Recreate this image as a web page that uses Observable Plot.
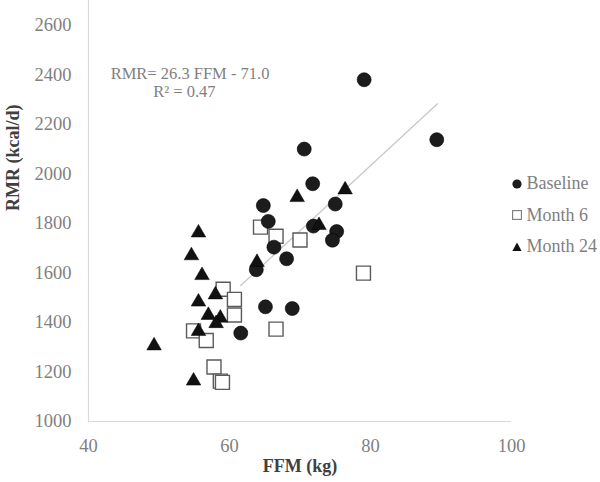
<!DOCTYPE html>
<html>
<head>
<meta charset="utf-8">
<script src="https://cdn.jsdelivr.net/npm/d3@7"></script>
<script src="https://cdn.jsdelivr.net/npm/@observablehq/plot@0.6"></script>
<style>
  html, body { margin: 0; padding: 0; background: #fff; }
  #wrap { position: relative; width: 600px; height: 482px; overflow: hidden; font-family: "Liberation Serif", serif; }
  #legend { position: absolute; left: 510px; top: 168px; }
  .row { display: flex; align-items: center; height: 31.6px; font-size: 18px; color: #7f7f7f; white-space: nowrap; }
  .row svg { margin-right: 2.5px; }
</style>
</head>
<body>
<div id="wrap"><div id="legend"></div></div>
<script>
// ---- data ----
const baselineFFM = [79.1, 89.4, 70.6, 71.8, 64.8, 65.5, 75.0, 71.9, 75.2, 74.6, 66.3, 68.1, 63.8, 65.1, 68.9, 61.6];
const baselineRMR = [2380, 2138, 2100, 1960, 1872, 1808, 1878, 1789, 1767, 1732, 1704, 1657, 1613, 1463, 1456, 1357];

const month6FFM = [64.4, 66.6, 70.0, 79.0, 59.1, 60.7, 60.7, 66.6, 54.9, 56.7, 57.8, 58.7, 59.0];
const month6RMR = [1785, 1748, 1733, 1599, 1534, 1493, 1430, 1373, 1366, 1327, 1220, 1163, 1158];

const month24FFM = [76.4, 69.6, 72.7, 63.9, 55.6, 54.6, 56.1, 55.6, 58.0, 57.0, 58.7, 58.1, 55.6, 49.3, 54.9];
const month24RMR = [1936, 1905, 1792, 1643, 1762, 1670, 1590, 1483, 1512, 1429, 1418, 1396, 1364, 1306, 1164];

const trendFFM = [61.6, 89.5];
const trendRMR = [1549, 2283];

const seriesNames = ["Baseline", "Month 6", "Month 24"];
const xTicks = [40, 60, 80, 100];
const yTicks = [1000, 1200, 1400, 1600, 1800, 2000, 2200, 2400, 2600];
const equationLines = ["RMR= 26.3 FFM - 71.0", "R\u00B2 = 0.47"];
const equationX = [54.4, 53.6];
const equationY = [2404, 2330];
const xLabel = "FFM (kg)";
const yLabel = "RMR (kcal/d)";

// ---- tables ----
const toRows = (xs, ys) => xs.map((x, i) => ({ x, y: ys[i] }));
const baseline = toRows(baselineFFM, baselineRMR);
const month6 = toRows(month6FFM, month6RMR);
const month24 = toRows(month24FFM, month24RMR);
const trend = toRows(trendFFM, trendRMR);
const eq = equationLines.map((t, i) => ({ t, x: equationX[i], y: equationY[i] }));

const tickColor = "#7f7f7f";
const axisColor = "#d9d9d9";

const chart = Plot.plot({
  width: 600,
  height: 482,
  marginLeft: 88,
  marginRight: 89,
  marginTop: 0,
  marginBottom: 61,
  x: { domain: [40, 100] },
  y: { domain: [1000, 2700] },
  style: { fontFamily: "Liberation Serif, serif", fontSize: "18px", background: "transparent", overflow: "visible" },
  marks: [
    Plot.ruleX([40], { stroke: axisColor, strokeWidth: 1.2 }),
    Plot.ruleY([1000], { stroke: axisColor, strokeWidth: 1.2 }),
    Plot.axisX({ ticks: xTicks, tickSize: 0, tickPadding: 17, tickFormat: d => String(d), label: null, fill: tickColor, fontSize: 18.5 }),
    Plot.axisY({ ticks: yTicks, tickSize: 0, tickPadding: 17, tickFormat: d => String(d), label: null, fill: tickColor, fontSize: 18.5 }),
    Plot.text([xLabel], { frameAnchor: "bottom", dy: 50, text: d => d, fontWeight: "bold", fontSize: 18, fill: "#404040" }),
    Plot.text([yLabel], { frameAnchor: "left", dx: -75, rotate: -90, text: d => d, fontWeight: "bold", fontSize: 18, fill: "#404040" }),
    Plot.line(trend, { x: "x", y: "y", stroke: "#c8c8c8", strokeWidth: 1.3 }),
    Plot.dot(month6, { x: "x", y: "y", symbol: "square", r: 7.9, fill: "white", stroke: "#5a5a5a", strokeWidth: 1.4 }),
    Plot.dot(baseline, { x: "x", y: "y", symbol: "circle", r: 7, fill: "#1c1c1c", stroke: "#000", strokeWidth: 0.6 }),
    Plot.dot(month24, { x: "x", y: "y", symbol: "triangle", r: 5.4, fill: "#111", stroke: "#000", strokeWidth: 0.5 }),
    Plot.text(eq, { x: "x", y: "y", text: "t", fontSize: 16.5, fill: tickColor })
  ]
});
document.getElementById("wrap").prepend(chart);

// ---- legend ----
const legend = d3.select("#legend");
const symbols = ["circle", "square", "triangle"];
seriesNames.forEach((name, i) => {
  const row = legend.append("div").attr("class", "row");
  const svg = row.append("svg").attr("width", 14).attr("height", 14);
  const s = symbols[i];
  if (s === "circle") {
    svg.append("circle").attr("cx", 7).attr("cy", 7).attr("r", 4.6).attr("fill", "#1c1c1c");
  } else if (s === "square") {
    svg.append("rect").attr("x", 2.6).attr("y", 2.6).attr("width", 8.8).attr("height", 8.8).attr("fill", "white").attr("stroke", "#7a7a7a").attr("stroke-width", 1.1);
  } else {
    svg.append("path").attr("d", "M7,2.5L11.6,11L2.4,11Z").attr("fill", "#111");
  }
  row.append("span").text(name);
});
</script>
</body>
</html>
